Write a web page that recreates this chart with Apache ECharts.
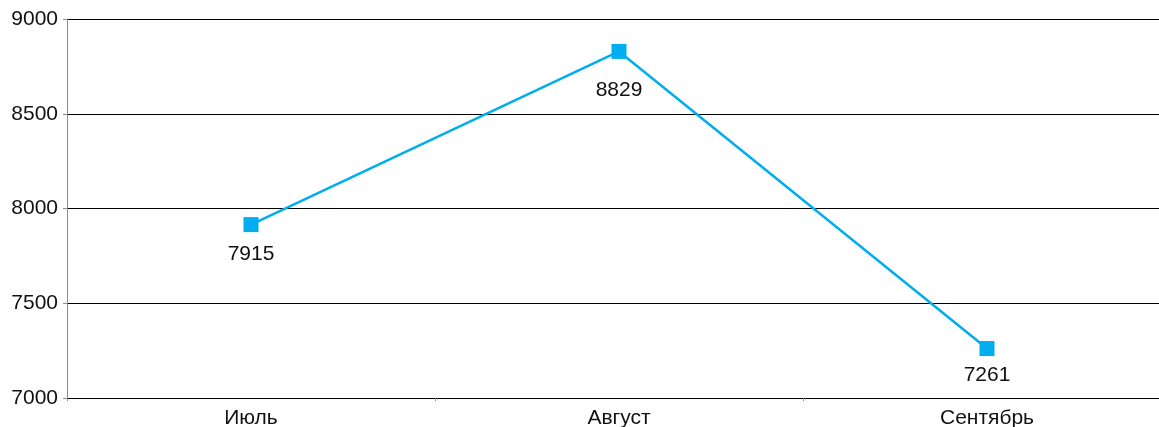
<!DOCTYPE html>
<html>
<head>
<meta charset="utf-8">
<style>
  html, body { margin: 0; padding: 0; background: #ffffff; overflow: hidden; }
  #wrap { width: 1159px; height: 427px; overflow: hidden; }
  /* the plot runs slightly past the right edge of the visible frame */
  #chart { width: 1171px; height: 427px; }
</style>
<script src="https://cdn.jsdelivr.net/npm/echarts@6/dist/echarts.min.js"></script>
</head>
<body>
<div id="wrap"><div id="chart"></div></div>
<script>
// Monthly values
const months = ['Июль', 'Август', 'Сентябрь'];
const values = [7915, 8829, 7261];
const yTicks = [7000, 7500, 8000, 8500, 9000];

const FONT = '"Liberation Sans", Arial, Helvetica, sans-serif';
const LINE_COLOR = '#00AEEF';

// gap between each point and its value label
const labelGaps = [12, 21, 9];

const seriesData = values.map((v, i) => ({
  value: v,
  label: { distance: labelGaps[i] }
}));

const chart = echarts.init(document.getElementById('chart'), null, { renderer: 'canvas' });

chart.setOption({
  animation: false,
  backgroundColor: '#ffffff',
  grid: { left: 67, right: 0, top: 19, bottom: 29, containLabel: false, outerBoundsMode: 'none' },
  xAxis: {
    type: 'category',
    data: months,
    boundaryGap: true,
    axisLine: { show: true, lineStyle: { color: '#000000', width: 1 } },
    axisTick: { show: true, alignWithLabel: false, length: 3, inside: false, lineStyle: { color: '#888888' } },
    axisLabel: { color: '#111111', fontFamily: FONT, fontSize: 21, margin: 10 },
    splitLine: { show: false }
  },
  yAxis: {
    type: 'value',
    min: yTicks[0],
    max: yTicks[yTicks.length - 1],
    interval: yTicks[1] - yTicks[0],
    axisLine: { show: true, lineStyle: { color: '#888888', width: 1 } },
    axisTick: { show: true, length: 4, lineStyle: { color: '#888888' } },
    axisLabel: { color: '#111111', fontFamily: FONT, fontSize: 21, margin: 9, formatter: v => String(v) },
    splitLine: { show: true, lineStyle: { color: '#000000', width: 1 } }
  },
  series: [{
    type: 'line',
    data: seriesData,
    symbol: 'rect',
    symbolSize: 15,
    lineStyle: { color: LINE_COLOR, width: 2.5 },
    itemStyle: { color: LINE_COLOR },
    label: {
      show: true,
      position: 'bottom',
      color: '#111111',
      fontFamily: FONT,
      fontSize: 21,
      formatter: p => String(p.value)
    }
  }]
});
</script>
</body>
</html>
